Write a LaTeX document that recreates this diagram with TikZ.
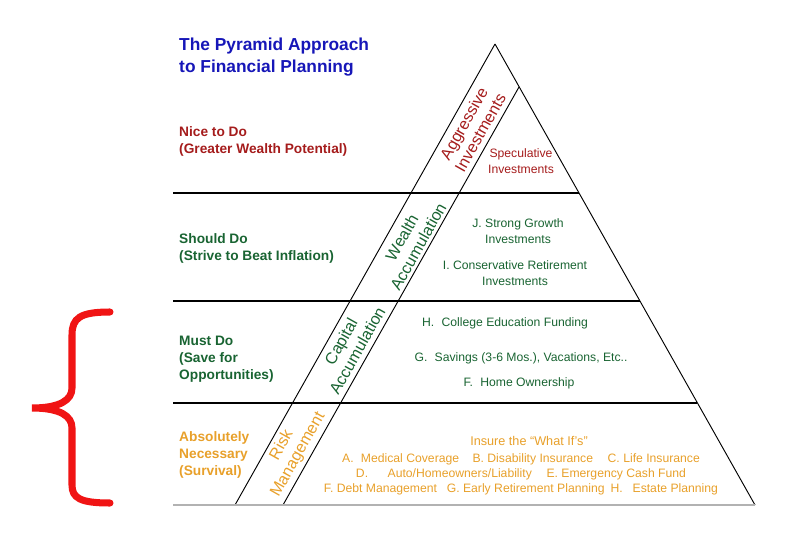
\documentclass[tikz,border=0pt]{standalone}
\usepackage{fontspec}
\setmainfont{Liberation Sans}
\definecolor{titleblue}{RGB}{22,22,184}
\definecolor{nicered}{RGB}{165,28,28}
\definecolor{dogreen}{RGB}{25,100,50}
\definecolor{safeorange}{RGB}{232,160,42}
\definecolor{bracered}{RGB}{240,20,20}

\begin{document}
\begin{tikzpicture}[x=0.03cm,y=-0.03cm,
    heading/.style={font=\fontsize{14.8}{18.3}\selectfont\bfseries,align=left,anchor=west,inner sep=0},
    goal/.style={font=\fontsize{11.7}{14.5}\selectfont\bfseries,align=left,anchor=west,inner sep=0},
    entry/.style={font=\fontsize{10.4}{13.2}\selectfont,align=center,inner sep=0},
    band/.style={font=\fontsize{13.8}{16}\selectfont,align=center,rotate=60.6,inner sep=0},
    edge/.style={line width=0.8pt},
    level/.style={line width=1.1pt}]
    \useasboundingbox (0,0) rectangle (810,540);
    \coordinate (apex) at (495,44);
    \coordinate (bl) at (235,505);
    \coordinate (br) at (755,505);
    \coordinate (bandtop) at (519,87);
    \coordinate (bandbot) at (283,505);
    \draw[edge] (apex) -- (br);
    \draw[edge] (apex) -- (bl);
    \draw[edge] (bandtop) -- (bandbot);
    \draw[level] (173,193) -- (579,193);
    \draw[level] (173,301) -- (640,301);
    \draw[level] (173,403) -- (697,403);
    \draw[gray!60,line width=1.7pt] (173,505) -- (br);

    \node[heading,titleblue] (title) at (179,57) {The Pyramid Approach\\to Financial Planning};
    \node[goal,nicered] (nice) at (179,141) {Nice to Do\\(Greater Wealth Potential)};
    \node[goal,dogreen] (should) at (179,248) {Should Do\\(Strive to Beat Inflation)};
    \node[goal,dogreen] (must) at (179,359) {Must Do\\(Save for\\Opportunities)};
    \node[goal,safeorange] (absolute) at (179,455) {Absolutely\\Necessary\\(Survival)};

    \node[band,nicered] (aggressive) at (472,128) {Aggressive\\Investments};
    \node[band,dogreen] (wealth) at (410,242) {Wealth\\Accumulation};
    \node[band,dogreen] (capital) at (349,346) {Capital\\Accumulation};
    \node[band,safeorange] (risk) at (290,450) {Risk\\Management};

    \node[entry,nicered] (speculative) at (521,161) {Speculative\\Investments};
    \node[entry,dogreen] (itemj) at (518,231) {J. Strong Growth\\Investments};
    \node[entry,dogreen] (itemi) at (515,273) {I. Conservative Retirement\\Investments};
    \node[entry,dogreen] (itemh) at (505,323) {H.\hspace{0.6em}College Education Funding};
    \node[entry,dogreen] (itemg) at (521,358) {G.\hspace{0.6em}Savings (3-6 Mos.), Vacations, Etc..};
    \node[entry,dogreen] (itemf) at (519,383) {F.\hspace{0.6em}Home Ownership};
    \node[entry,safeorange,font=\fontsize{10.8}{13.2}\selectfont] (insure) at (529,441) {Insure the “What If’s”};
    \node[entry,safeorange,font=\fontsize{10.4}{12.8}\selectfont] (cover) at (521,474)
        {A.\hspace{0.6em}Medical Coverage\hspace{1.1em}B. Disability Insurance\hspace{1.2em}C. Life Insurance\\
         D.\hspace{1.6em}Auto/Homeowners/Liability\hspace{1.2em}E. Emergency Cash Fund\\
         F. Debt Management\hspace{0.8em}G. Early Retirement Planning\hspace{0.5em}H.\hspace{0.8em}Estate Planning};

    \draw[bracered,line width=6pt,line cap=round] (110,312) .. controls (80,312) and (72,318) .. (72,335) -- (72,388)
        .. controls (72,400) and (60,408) .. (32,408) .. controls (60,408) and (72,416) .. (72,428) -- (72,485)
        .. controls (72,498) and (80,503) .. (110,503);
\end{tikzpicture}
\end{document}
